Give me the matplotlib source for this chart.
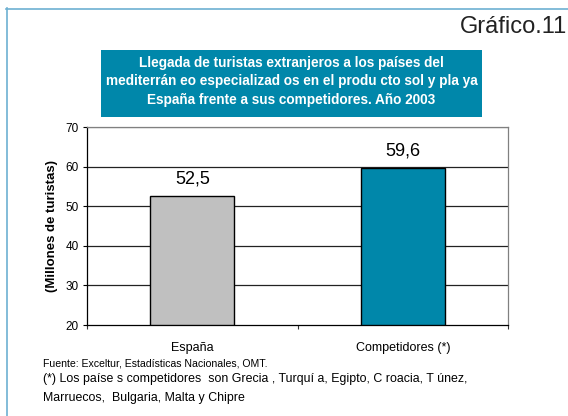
import matplotlib
matplotlib.use("Agg")
import matplotlib.pyplot as plt
from matplotlib.patches import Rectangle
from matplotlib.lines import Line2D

categories = ["España", "Competidores (*)"]
values = [52.5, 59.6]
value_labels = ["52,5", "59,6"]
bar_colors = ["#C0C0C0", "#0087AA"]
yticks = [20, 30, 40, 50, 60, 70]

plt.rcParams['font.family'] = ['Liberation Sans', 'DejaVu Sans']

W, H = 568, 416
fig = plt.figure(figsize=(W / 100, H / 100), dpi=100)

def fx(x):
    return x / W

def fy(y):
    return 1 - y / H

# outer frame lines (left and top)
fig.add_artist(Line2D([fx(6.5), fx(6.5)], [fy(8), 0], color="#6DB0D2", lw=1.2))
fig.add_artist(Line2D([fx(6), 1], [fy(8.5), fy(8.5)], color="#6DB0D2", lw=1.2))

fig.text(fx(567), fy(27), "Gráfico.11", ha="right", va="center", fontsize=17, color="#222222")

# title box
fig.add_artist(Rectangle((fx(101), fy(117)), fx(482) - fx(101), fy(50) - fy(117),
                         facecolor="#0087AA", edgecolor="none", transform=fig.transFigure))
title_lines = ["Llegada de turistas extranjeros a los países del",
               "mediterrán eo especializad os en el produ cto sol y pla ya",
               "España frente a sus competidores. Año 2003"]
for yy, t in zip([63, 81.5, 100], title_lines):
    fig.text(fx(291.5), fy(yy), t, ha="center", va="center", fontsize=9.8,
             fontweight="bold", color="white")

ax = fig.add_axes([fx(87), fy(325), fx(508) - fx(87), fy(127) - fy(325)])
x = list(range(len(categories)))
bars = ax.bar(x, [v - 20 for v in values], bottom=20, width=0.4, color=bar_colors,
              edgecolor="black", linewidth=1.0, zorder=3)
ax.set_xlim(-0.5, 1.5)
ax.set_ylim(20, 70)
ax.set_yticks(yticks)
ax.set_yticklabels([str(t) for t in yticks], fontsize=8.5)
for t in yticks[1:-1]:
    ax.axhline(t, color="#222222", lw=0.9, zorder=1)
ax.axhline(70, color="#808080", lw=0.9, zorder=1)
ax.set_xticks([-0.5, 0.5, 1.5])
ax.set_xticklabels([])
ax.tick_params(axis="x", direction="out", length=3, width=0.8, color="#333333")
ax.tick_params(axis="y", direction="out", length=3, width=0.8, pad=3)
for xi, c in zip(x, categories):
    ax.text(xi, 14.3, c, ha="center", va="center", fontsize=9, clip_on=False)
for xi, v, lab in zip(x, values, value_labels):
    ax.text(xi, v + 2.2, lab, ha="center", va="bottom", fontsize=13)
ax.spines["left"].set_color("black")
ax.spines["bottom"].set_color("black")
ax.spines["top"].set_color("#808080")
ax.spines["right"].set_color("#808080")
for s in ax.spines.values():
    s.set_linewidth(0.9)
ax.set_ylabel("(Millones de turistas)", fontsize=9.5, fontweight="bold", labelpad=5)

fig.text(fx(43), fy(364), "Fuente: Exceltur, Estadísticas Nacionales, OMT.",
         ha="left", va="center", fontsize=7.6)
fig.text(fx(43), fy(379),
         "(*) Los paíse s competidores  son Grecia , Turquí a, Egipto, C roacia, T únez,",
         ha="left", va="center", fontsize=8.9)
fig.text(fx(43), fy(397.5), "Marruecos,  Bulgaria, Malta y Chipre",
         ha="left", va="center", fontsize=8.9)

fig.savefig("out.png", dpi=100)
